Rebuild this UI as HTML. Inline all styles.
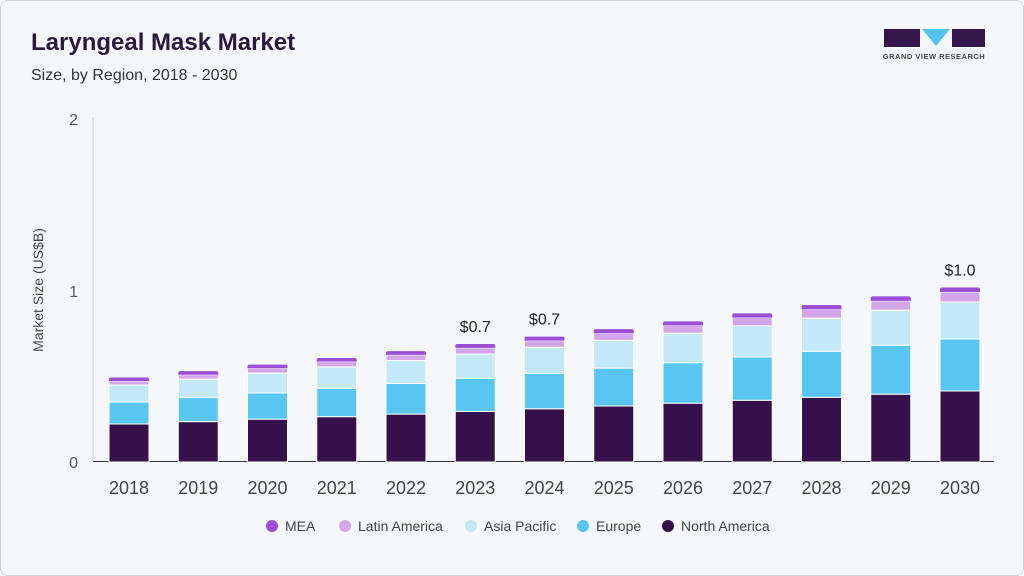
<!DOCTYPE html>
<html><head><meta charset="utf-8"><style>
body{margin:0;background:#fff;}
#w{position:relative;width:1022px;height:574px;border:1px solid #d0d0d0;border-radius:8px;background:#f5f7fa;overflow:hidden;font-family:"Liberation Sans",sans-serif;}
</style></head><body><div id="w">
<svg id="s" width="1022" height="574" xmlns="http://www.w3.org/2000/svg" style="position:absolute;left:0;top:0">
<text x="30" y="49" font-size="24" font-weight="bold" fill="#2a1940">Laryngeal Mask Market</text>
<text x="30" y="79" font-size="16" fill="#333">Size, by Region, 2018 - 2030</text>
<rect x="883" y="28" width="36" height="18" fill="#34174a"/>
<polygon points="921,28 949,28 935,45" fill="#55c3ef"/>
<rect x="951" y="28" width="33" height="18" fill="#34174a"/>
<text x="933" y="58" font-size="7.5" font-weight="bold" fill="#444" text-anchor="middle" letter-spacing="0.5">GRAND VIEW RESEARCH</text>
<line x1="92" y1="116" x2="92" y2="461" stroke="#ccc"/>
<line x1="92" y1="460.5" x2="993" y2="460.5" stroke="#333"/>
<text x="77" y="124" font-size="16" fill="#555" text-anchor="end">2</text>
<text x="77" y="296" font-size="16" fill="#555" text-anchor="end">1</text>
<text x="77" y="467" font-size="16" fill="#555" text-anchor="end">0</text>
<text transform="translate(42,289) rotate(-90)" font-size="14" fill="#444" text-anchor="middle">Market Size (US$B)</text>
<g id="bars"></g>
<g font-size="14" fill="#444">
<circle cx="271" cy="525" r="6" fill="#9b4fd4"/><text x="284" y="530">MEA</text>
<circle cx="344" cy="525" r="6" fill="#d3a6ea"/><text x="357" y="530">Latin America</text>
<circle cx="470" cy="525" r="6" fill="#c3e8f8"/><text x="483" y="530">Asia Pacific</text>
<circle cx="582" cy="525" r="6" fill="#58c6f0"/><text x="595" y="530">Europe</text>
<circle cx="667" cy="525" r="6" fill="#34114a"/><text x="680" y="530">North America</text>
</g>
</svg>
<script>
var g=document.getElementById('bars'),h='';
var s=[[38,71,'#34114a'],[22,52,'#58c6f0'],[17,37,'#c3e8f8'],[4,10,'#d3a6ea'],[3.5,4.5,'#9b4fd4']];
for(var i=0;i<13;i++){var t=i/12,cx=128+i*69.25,y=461;
for(var k=0;k<5;k++){var a=s[k][0],b=s[k][1];var v=0.5*(a*Math.pow(b/a,t))+0.5*(a+(b-a)*t);y-=v;
if(k==4){h+='<path d="M'+(cx-20)+','+(y+v)+' V'+(y+2)+' Q'+(cx-20)+','+y+' '+(cx-18)+','+y+' H'+(cx+18)+' Q'+(cx+20)+','+y+' '+(cx+20)+','+(y+2)+' V'+(y+v)+'Z" fill="'+s[k][2]+'"/>';}
else h+='<rect x="'+(cx-20)+'" y="'+y+'" width="40" height="'+v+'" fill="'+s[k][2]+'" stroke="#fff" stroke-width="1"/>';}
h+='<text x="'+cx+'" y="493" font-size="18" fill="#444" text-anchor="middle">'+(2018+i)+'</text>';
if(i==5||i==6||i==12)h+='<text x="'+cx+'" y="'+(y-12)+'" font-size="16" fill="#222" text-anchor="middle">'+(i==12?'$1.0':'$0.7')+'</text>';}
g.innerHTML=h;
</script>
</div></body></html>
